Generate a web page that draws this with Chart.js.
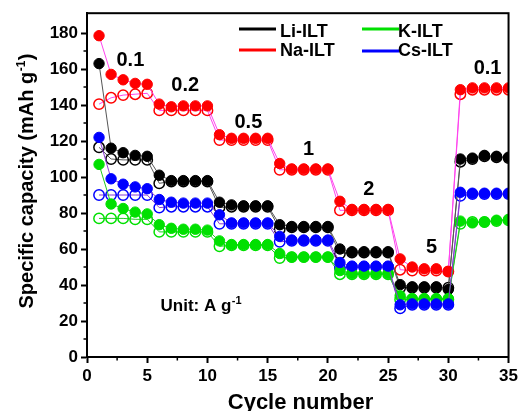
<!DOCTYPE html>
<html>
<head>
<meta charset="utf-8">
<script src="https://cdn.jsdelivr.net/npm/chart.js@4.4.1/dist/chart.umd.min.js"></script>
<style>
  body { margin: 0; background: #fff; }
  #chart { display: block; }
</style>
</head>
<body>
<canvas id="chart" width="521" height="411"></canvas>
<script>
  // cycle numbers 1..35
  const cycles = [1,2,3,4,5,6,7,8,9,10,11,12,13,14,15,16,17,18,19,20,21,22,23,24,25,26,27,28,29,30,31,32,33,34,35];

  // filled = discharge, hollow = charge (mAh g-1)
  const liDis = [163,116,113.5,112,111.5,101,98,98,98,98,86,84.5,84,84,84,73.5,72.5,72.5,72.5,72.5,60,58.5,58.5,58.5,58.5,40.2,39,39,39,37.5,110,110.5,112,111.5,111];
  const liChg = [116.5,110,109.5,109.5,109.5,96.5,97.5,97.5,97.5,97.5,83,83.5,83.5,83.5,83.5,71,72,72,72,72,57.5,58,58,58,58,38.5,38.5,38.5,38.5,38.5,108.5,110,111.5,111,110.5];
  const naDis = [178.5,157,154,152,151.5,140.5,139,139.5,139.5,139.5,123.5,121.5,121.5,121.5,121.5,107.5,104.5,104.5,104.5,104.5,86.5,82,82,82,82,54.5,50,49,49,47.5,148.5,149.5,149.5,149.5,149.5];
  const naChg = [140.5,144,145.5,146,146.5,137,137,137,137,137,120.5,120.5,120.5,120.5,120.5,104,104,104,104,104,81.5,81.5,81.5,81.5,81.5,48.5,48,48,48,47.5,146,148.5,148.5,148.5,148.5];
  const kDis = [107,85,82.5,80.5,79.5,73.5,71.5,71,71,70.5,64.5,62.5,62.5,62.5,62.5,57.5,55.5,55.5,55.5,55.5,48,46.5,46.5,46.5,46.5,34,32.5,32.5,32.5,32.5,75.5,74.5,75,76,76.5];
  const kChg = [77,77,77,76.5,76.5,69.5,69.5,69.5,69.5,69.5,61.5,62,62,62,62,55,55.5,55.5,55.5,55.5,46,46,46,46,46,32,32,32,32,32,74,75,75,75.5,76];
  const csDis = [122,99,96,94.5,93.5,87.5,86,85.5,85.5,85.5,79,74.5,74.5,74.5,74.5,67,65,65,65,65,52.5,50.5,50.5,50.5,50.5,29,29.5,29.5,29.5,29.5,91.5,91,91,91,91];
  const csChg = [90,90,90,90,90,83,83.5,83.5,83.5,83.5,74,74,74,74,74,64,64.5,64.5,64.5,64.5,49.5,50,50,50,50,27,29,29,29,29,89.5,90.5,90.5,90.5,90.5];

  const seriesNames = ["Li-ILT", "Na-ILT", "K-ILT", "Cs-ILT"];
  const xTicks = [0,5,10,15,20,25,30,35];
  const yTicks = [0,20,40,60,80,100,120,140,160,180];
  const rateLabels = ["0.1","0.2","0.5","1","2","5","0.1"];

  const FONT = "'Liberation Sans', Arial, sans-serif";

  // where the current-density labels sit (data coords)
  const ratePos = [[3.6,164.8],[8.15,151],[13.4,130.4],[18.4,115.4],[23.4,93.3],[28.6,60.8],[33.26,160.2]];

  const looks = {
    "Li-ILT": { mark: "#000000", line: "#555555" },
    "Na-ILT": { mark: "#ff0000", line: "#ff44ee" },
    "K-ILT":  { mark: "#00e000", line: "#22cc22" },
    "Cs-ILT": { mark: "#0000ff", line: "#8a3cd6" },
  };

  function pts(arr) {
    return cycles.map((c, i) => ({ x: c, y: arr[i] }));
  }

  function makeSet(name, arr, filled, order) {
    const lk = looks[name];
    return {
      label: name + (filled ? " dis" : " chg"),
      data: pts(arr),
      borderColor: lk.line,
      borderWidth: 1,
      pointRadius: 5.2,
      pointBorderWidth: filled ? 1 : 1.5,
      pointBorderColor: lk.mark,
      pointBackgroundColor: filled ? lk.mark : "rgba(255,255,255,0)",
      pointHoverRadius: 5.2,
      order: order,
      clip: 0,
    };
  }

  const datasets = [
    makeSet("Cs-ILT", csDis, true, 1),
    makeSet("K-ILT", kDis, true, 2),
    makeSet("Na-ILT", naDis, true, 3),
    makeSet("Li-ILT", liDis, true, 4),
    makeSet("Cs-ILT", csChg, false, 5),
    makeSet("K-ILT", kChg, false, 6),
    makeSet("Na-ILT", naChg, false, 7),
    makeSet("Li-ILT", liChg, false, 8),
  ];

  function textSup(ctx, base, sup, x, y, size) {
    ctx.textAlign = "left";
    ctx.font = "bold " + size + "px " + FONT;
    const wb = ctx.measureText(base).width;
    ctx.fillText(base, x, y);
    ctx.font = "bold " + Math.round(size * 0.62) + "px " + FONT;
    ctx.fillText(sup, x + wb + 0.5, y - size * 0.42);
  }

  const extras = {
    id: "extras",
    afterDatasetsDraw(chart) {
      const { ctx, chartArea: a, scales } = chart;
      const sx = scales.x, sy = scales.y;
      ctx.save();
      ctx.strokeStyle = "#000";
      ctx.lineWidth = 2;
      ctx.strokeRect(a.left, a.top, a.right - a.left, a.bottom - a.top);

      // minor ticks
      ctx.lineWidth = 1.5;
      ctx.beginPath();
      for (let v = 2.5; v < 35; v += 5) {
        const px = sx.getPixelForValue(v);
        ctx.moveTo(px, a.bottom);
        ctx.lineTo(px, a.bottom + 3.5);
      }
      for (let v = 10; v < 190; v += 20) {
        const py = sy.getPixelForValue(v);
        ctx.moveTo(a.left, py);
        ctx.lineTo(a.left - 3.5, py);
      }
      ctx.stroke();

      ctx.fillStyle = "#000";
      // rate labels
      ctx.font = "bold 20px " + FONT;
      ctx.textAlign = "center";
      ctx.textBaseline = "middle";
      rateLabels.forEach((t, i) => {
        ctx.fillText(t, sx.getPixelForValue(ratePos[i][0]), sy.getPixelForValue(ratePos[i][1]));
      });

      ctx.textBaseline = "alphabetic";
      textSup(ctx, "Unit: A g", "-1", 160.5, 311, 17);

      // legend, 2 x 2
      const spots = [[239, 29, 280, 37], [239, 50, 280, 56], [362, 29, 398, 37], [362, 51, 398, 56]];
      seriesNames.forEach((n, i) => {
        const s = spots[i];
        ctx.strokeStyle = looks[n].mark;
        ctx.lineWidth = 3;
        ctx.beginPath();
        ctx.moveTo(s[0], s[1]);
        ctx.lineTo(s[0] + 37, s[1]);
        ctx.stroke();
        ctx.font = "bold 18px " + FONT;
        ctx.textAlign = "left";
        ctx.fillText(n, s[2], s[3]);
      });

      // axis titles
      ctx.font = "bold 22px " + FONT;
      ctx.textAlign = "center";
      ctx.fillText("Cycle number", 300.5, 409);

      ctx.translate(33, 181);
      ctx.rotate(-Math.PI / 2);
      ctx.font = "bold 20px " + FONT;
      const w1 = ctx.measureText("Specific capacity (mAh g").width;
      ctx.font = "bold 12px " + FONT;
      const w2 = ctx.measureText("-1").width;
      ctx.font = "bold 20px " + FONT;
      const w3 = ctx.measureText(")").width;
      const x0 = -(w1 + w2 + w3 + 1) / 2;
      ctx.textAlign = "left";
      ctx.fillText("Specific capacity (mAh g", x0, 0);
      ctx.font = "bold 12px " + FONT;
      ctx.fillText("-1", x0 + w1 + 0.5, -8);
      ctx.font = "bold 20px " + FONT;
      ctx.fillText(")", x0 + w1 + w2 + 1, 0);
      ctx.restore();
    },
  };

  new Chart(document.getElementById("chart"), {
    type: "line",
    data: { datasets: datasets },
    options: {
      responsive: false,
      animation: false,
      devicePixelRatio: 1,
      layout: { padding: { top: 13, right: 12, bottom: 0, left: 0 } },
      plugins: {
        legend: { display: false },
        tooltip: { enabled: false },
      },
      scales: {
        x: {
          type: "linear",
          min: 0,
          max: 35,
          afterFit: (s) => { s.height = 54; },
          afterBuildTicks: (s) => { s.ticks = xTicks.map((v) => ({ value: v })); },
          ticks: {
            color: "#000",
            padding: 3,
            maxRotation: 0,
            font: { family: FONT, size: 17, weight: "bold" },
          },
          grid: { drawOnChartArea: false, tickLength: 6, tickWidth: 2, tickColor: "#000" },
          border: { display: true, color: "#000", width: 2 },
        },
        y: {
          type: "linear",
          min: 0,
          max: 191,
          afterFit: (s) => { s.width = 87; },
          afterBuildTicks: (s) => { s.ticks = yTicks.map((v) => ({ value: v })); },
          ticks: {
            color: "#000",
            padding: 3,
            font: { family: FONT, size: 17, weight: "bold" },
          },
          grid: { drawOnChartArea: false, tickLength: 6, tickWidth: 2, tickColor: "#000" },
          border: { display: true, color: "#000", width: 2 },
        },
      },
    },
    plugins: [extras],
  });
</script>
</body>
</html>
